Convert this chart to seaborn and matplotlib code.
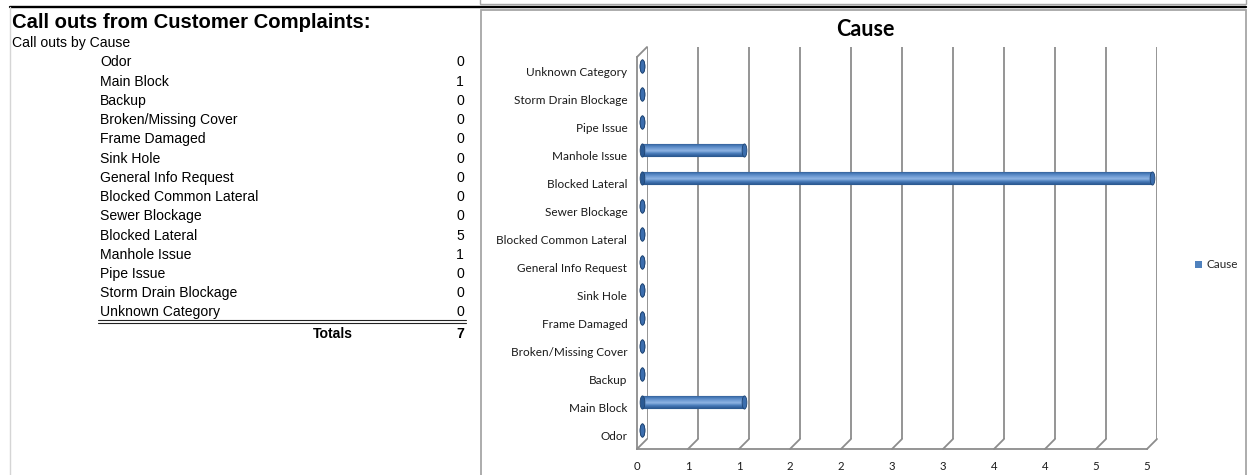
import numpy as np
import pandas as pd
import matplotlib
matplotlib.use("Agg")
import matplotlib.pyplot as plt
import seaborn as sns
from matplotlib.path import Path
from matplotlib.transforms import Affine2D
from matplotlib.patches import Rectangle, Patch
from matplotlib.lines import Line2D

# ---------------- data ----------------
categories = ["Odor", "Main Block", "Backup", "Broken/Missing Cover", "Frame Damaged",
              "Sink Hole", "General Info Request", "Blocked Common Lateral", "Sewer Blockage",
              "Blocked Lateral", "Manhole Issue", "Pipe Issue", "Storm Drain Blockage",
              "Unknown Category"]
counts = [0, 1, 0, 0, 0, 0, 0, 0, 0, 5, 1, 0, 0, 0]
x_ticks = [0, 0.5, 1, 1.5, 2, 2.5, 3, 3.5, 4, 4.5, 5]
x_tick_labels = ["0", "1", "1", "2", "2", "3", "3", "4", "4", "5", "5"]
series_name = "Cause"
chart_title = "Cause"
table_title = "Call outs from Customer Complaints:"
table_subtitle = "Call outs by Cause"
total_label = "Totals"

# ---------------- setup ----------------
W, H = 1248, 475
sns.set_theme(style="white")
plt.rcParams["font.family"] = ["Lato", "DejaVu Sans"]

fig = plt.figure(figsize=(W / 100, H / 100), dpi=100)
fig.patch.set_facecolor("white")


def fx(x):
    return x / W


def fy(y):
    return 1 - y / H


def rect(x0, y0, x1, y1):
    return [fx(x0), fy(y1), (x1 - x0) / W, (y1 - y0) / H]


GRID = "#8C8C8C"
DEPTH = 10
PX0, PY0, PX1, PY1 = 637, 57, 1147, 449

ax_back = fig.add_axes(rect(PX0 + DEPTH, PY0 - DEPTH, PX1 + DEPTH, PY1 - DEPTH))
ax = fig.add_axes(rect(PX0, PY0, PX1, PY1))
ax_mid = fig.add_axes(rect(PX0 + DEPTH / 2, PY0 - DEPTH / 2, PX1 + DEPTH / 2, PY1 - DEPTH / 2))
for a in (ax_back, ax, ax_mid):
    a.set_facecolor("none")

order = categories[::-1]  # top to bottom
df = pd.DataFrame({"Category": categories, "Count": counts})

sns.barplot(data=df, y="Category", x="Count", order=order, orient="h", ax=ax_mid,
            color="#4F81BD", width=0.46, edgecolor="#2C5A91", linewidth=0.8)

# cylinder shading
grad = np.linspace(0, 1, 64)[:, None]
cmap = matplotlib.colors.LinearSegmentedColormap.from_list(
    "cyl", ["#2E5C96", "#4A7DBB", "#8FB4E3", "#6F9BD3", "#4A7DBB", "#2A5389"])
for p in list(ax_mid.patches):
    bb = p.get_bbox()
    if bb.width <= 0:
        continue
    im = ax_mid.imshow(grad, cmap=cmap, aspect="auto",
                       extent=[bb.x0, bb.x1, bb.y0, bb.y1], zorder=p.get_zorder() + 0.1)
    im.set_clip_path(p)

# ellipse caps of cylinders
ell = Path.unit_circle().transformed(Affine2D().scale(0.36, 1.0))
pos = np.arange(len(order))
vals = df.set_index("Category").loc[order, "Count"].to_numpy()
ax_mid.scatter(np.zeros_like(vals), pos, marker=ell, s=90, color="#2B5A94",
               edgecolor="#1F4472", linewidth=0.6, zorder=5, clip_on=False)
ax_mid.scatter(vals, pos, marker=ell, s=90, color="#3C6EAE",
               edgecolor="#1F4472", linewidth=0.6, zorder=5, clip_on=False)

for a in (ax_back, ax, ax_mid):
    a.set_xlim(0, 5)
    a.set_ylim(len(order) - 0.5, -0.5)

ax_mid.set_axis_off()

# back wall: gridlines
ax_back.set_xticks(x_ticks)
ax_back.set_yticks([])
ax_back.tick_params(length=0, labelbottom=False, labelleft=False)
ax_back.grid(axis="x", color=GRID, linewidth=1.3)
for s in ax_back.spines.values():
    s.set_visible(False)

# front plane: axes, ticks, labels
ax.set_xticks(x_ticks)
ax.set_xticklabels(x_tick_labels)
ax.set_yticks(pos)
ax.set_yticklabels(order)
ax.set_yticks(np.arange(len(order) + 1) - 0.5, minor=True)
ax.tick_params(axis="y", which="major", length=0, pad=7, labelsize=8.5, labelcolor="#1A1A1A")
ax.tick_params(axis="y", which="minor", length=4, width=1.1, color=GRID, direction="out")
ax.tick_params(axis="x", which="major", length=4, width=1.1, color=GRID, direction="out",
               pad=5, labelsize=8.2, labelcolor="#1A1A1A")
ax.set_xlabel("")
ax.set_ylabel("")
for side in ("top", "right"):
    ax.spines[side].set_visible(False)
for side in ("left", "bottom"):
    ax.spines[side].set_color(GRID)
    ax.spines[side].set_linewidth(1.3)

# 3D floor / wall connectors
dx = DEPTH * 5 / (PX1 - PX0)
dy = DEPTH * len(order) / (PY1 - PY0)
ybot = len(order) - 0.5
for t in x_ticks:
    ax.plot([t, t + dx], [ybot, ybot - dy], color=GRID, linewidth=1.3, clip_on=False)
ax.plot([0, dx], [-0.5, -0.5 - dy], color=GRID, linewidth=1.3, clip_on=False)

# chart title and legend
fig.text(fx(865), fy(30), chart_title, ha="center", va="center", fontsize=15.5,
         fontweight="bold", color="black")
fig.legend(handles=[Patch(facecolor="#4F81BD", edgecolor="none")], labels=[series_name],
           loc="center left", bbox_to_anchor=(fx(1184), fy(265)), frameon=False,
           handlelength=0.6, handleheight=0.6, handletextpad=0.4, fontsize=8.5)

# chart frame and sheet lines
fig.add_artist(Rectangle((fx(481), fy(478)), (1246 - 481) / W, (478 - 10) / H,
                         transform=fig.transFigure, fill=False, edgecolor="#A6A6A6",
                         linewidth=1.3))
fig.add_artist(Rectangle((fx(480), fy(4)), (1246 - 480) / W, 10 / H,
                         transform=fig.transFigure, fill=False, edgecolor="#A6A6A6",
                         linewidth=1.0))
fig.add_artist(Line2D([fx(10), fx(1246)], [fy(6.5), fy(6.5)], color="black", linewidth=1.7,
                      transform=fig.transFigure))
fig.add_artist(Line2D([fx(10), fx(10)], [fy(7), fy(475)], color="#D5D5D5", linewidth=1.0,
                      transform=fig.transFigure))

# ---------------- left table ----------------
TF = "Liberation Sans"
fig.text(fx(12), fy(23), table_title, ha="left", va="center", fontsize=14.6,
         fontweight="bold", family=TF, color="black")
fig.text(fx(12), fy(43.5), table_subtitle, ha="left", va="center", fontsize=10.1,
         family=TF, color="black")
row0, step = 62.5, 19.23
for i, (c, v) in enumerate(zip(categories, counts)):
    y = row0 + i * step
    fig.text(fx(100), fy(y), c, ha="left", va="center", fontsize=10.1, family=TF, color="black")
    fig.text(fx(464), fy(y), str(v), ha="right", va="center", fontsize=10.1, family=TF,
             color="black")
for yy in (320.3, 323.0):
    fig.add_artist(Line2D([fx(98), fx(466)], [fy(yy), fy(yy)], color="#222222",
                          linewidth=0.8, transform=fig.transFigure))
fig.text(fx(353), fy(333.5), total_label, ha="right", va="center", fontsize=10.1,
         fontweight="bold", family=TF, color="black")
fig.text(fx(464), fy(333.5), str(sum(counts)), ha="right", va="center", fontsize=10.1,
         fontweight="bold", family=TF, color="black")

fig.savefig("out.png", dpi=100, facecolor="white")
